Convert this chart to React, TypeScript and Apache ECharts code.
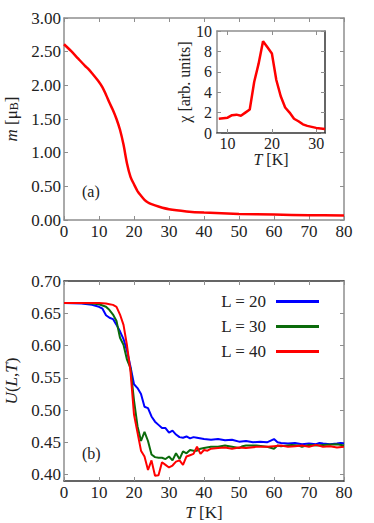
import React, { useEffect, useRef } from 'react';
import * as echarts from 'echarts';

const serif = 'Liberation Serif';

// Panel (a): magnetization m(T)
const mT = [0, 2, 4, 6, 7, 8, 10, 11, 12, 13, 14, 15, 16, 17, 18, 19, 20, 21, 22, 23, 24, 25, 27, 30, 35, 40, 50, 60, 70, 80];
const mVal = [2.61, 2.51, 2.4, 2.29, 2.24, 2.18, 2.05, 1.97, 1.86, 1.74, 1.63, 1.5, 1.34, 1.12, 0.84, 0.64, 0.53, 0.43, 0.36, 0.3, 0.26, 0.235, 0.2, 0.16, 0.128, 0.11, 0.09, 0.08, 0.072, 0.065];

// Inset: susceptibility chi(T)
const chiT = [8, 9, 10, 11, 12, 13, 14, 15, 16, 17, 18, 19, 20, 21, 22, 23, 24, 25, 26, 27, 28, 29, 30, 31, 32];
const chiVal = [1.4, 1.45, 1.5, 1.75, 1.8, 1.7, 2.0, 2.3, 5.0, 6.8, 9.0, 8.4, 7.8, 5.2, 3.6, 2.5, 2.0, 1.4, 1.15, 0.85, 0.7, 0.6, 0.5, 0.45, 0.4];

// Panel (b): Binder cumulant U(L,T)
const legendNames = ['L = 20', 'L = 30', 'L = 40'];
const t20 = [0, 5, 8, 10, 11, 12, 13, 14, 15, 16, 17, 18, 19, 20, 21, 22, 23, 24, 25, 26, 27, 28, 29, 30, 31, 32, 33, 34, 35, 36, 37, 38, 40, 42, 44, 46, 48, 50, 52, 54, 56, 58, 60, 61, 62, 64, 66, 68, 70, 72, 73, 74, 76, 78, 79, 80];
const u20 = [0.666, 0.665, 0.663, 0.66, 0.657, 0.647, 0.643, 0.641, 0.632, 0.622, 0.61, 0.592, 0.567, 0.54, 0.534, 0.525, 0.505, 0.503, 0.49, 0.482, 0.477, 0.472, 0.472, 0.465, 0.468, 0.462, 0.458, 0.457, 0.459, 0.456, 0.458, 0.457, 0.455, 0.454, 0.455, 0.453, 0.454, 0.451, 0.452, 0.45, 0.451, 0.45, 0.455, 0.45, 0.449, 0.448, 0.449, 0.447, 0.448, 0.447, 0.449, 0.448, 0.447, 0.448, 0.449, 0.448];
const t30 = [0, 5, 8, 10, 11, 12, 13, 14, 15, 16, 17, 18, 19, 20, 21, 22, 23, 24, 25, 26, 27, 28, 29, 30, 31, 32, 33, 34, 35, 36, 37, 38, 39, 40, 42, 44, 46, 48, 50, 51, 52, 55, 58, 60, 61, 62, 65, 67, 68, 70, 72, 75, 78, 80];
const u30 = [0.666, 0.666, 0.665, 0.664, 0.662, 0.66, 0.655, 0.648, 0.638, 0.612, 0.601, 0.578, 0.565, 0.515, 0.475, 0.452, 0.466, 0.452, 0.431, 0.427, 0.426, 0.426, 0.424, 0.428, 0.422, 0.433, 0.424, 0.436, 0.433, 0.438, 0.437, 0.437, 0.44, 0.441, 0.443, 0.443, 0.445, 0.443, 0.441, 0.444, 0.445, 0.445, 0.443, 0.44, 0.445, 0.444, 0.446, 0.445, 0.443, 0.446, 0.445, 0.446, 0.447, 0.445];
const t40 = [0, 5, 10, 12, 13, 14, 15, 16, 17, 18, 19, 20, 21, 22, 23, 24, 25, 26, 27, 28, 29, 30, 31, 32, 33, 34, 35, 36, 37, 38, 39, 40, 41, 42, 44, 46, 48, 50, 52, 55, 58, 60, 62, 64, 66, 68, 70, 72, 74, 76, 78, 80];
const u40 = [0.666, 0.666, 0.666, 0.665, 0.664, 0.663, 0.66, 0.648, 0.632, 0.6, 0.56, 0.493, 0.465, 0.437, 0.428, 0.407, 0.422, 0.398, 0.399, 0.419, 0.415, 0.411, 0.414, 0.42, 0.422, 0.415, 0.428, 0.43, 0.432, 0.443, 0.432, 0.438, 0.437, 0.44, 0.441, 0.442, 0.44, 0.442, 0.441, 0.443, 0.443, 0.444, 0.445, 0.443, 0.444, 0.445, 0.443, 0.446, 0.443, 0.444, 0.442, 0.443];

const mTicks = [0, 0.5, 1, 1.5, 2, 2.5, 3];
const uTicks = [0.4, 0.45, 0.5, 0.55, 0.6, 0.65, 0.7];
const tTicks = [0, 10, 20, 30, 40, 50, 60, 70, 80];
const chiTTicks = [10, 20, 30];
const chiTicks = [0, 2, 4, 6, 8, 10];

const zip = (xs: number[], ys: number[]) => xs.map((x, i) => [x, ys[i]]);

const gray = '#8e8e8e';
const dark = '#333';

function axisPair(kind: 'x' | 'y', gridIndex: number, min: number, max: number, ticks: number[], fontSize: number, c1: string, c2: string, fmt: (v: number) => string, margin: number, extra: any = {}) {
  const base = {
    type: 'value',
    gridIndex,
    min,
    max,
    splitLine: { show: false },
    axisTick: { show: true, inside: true, length: 4, customValues: ticks, lineStyle: { color: gray, width: 1 } },
  };
  const main = {
    ...base,
    position: kind === 'x' ? 'bottom' : 'left',
    axisLine: { show: true, onZero: false, lineStyle: { color: c1, width: 1.5 } },
    axisLabel: {
      show: true,
      customValues: ticks,
      formatter: fmt,
      fontFamily: serif,
      fontSize,
      color: '#222',
      margin,
      hideOverlap: false,
    },
    ...extra,
  };
  const other = {
    ...base,
    position: kind === 'x' ? 'top' : 'right',
    axisLine: { show: true, onZero: false, lineStyle: { color: c2, width: 1.5 } },
    axisLabel: { show: false },
  };
  return [main, other];
}

export default function App() {
  const ref = useRef<HTMLDivElement>(null);
  useEffect(() => {
    const chart = echarts.init(ref.current!, null, { renderer: 'svg' });
    const italic = { fontStyle: 'italic', fontFamily: serif };
    const xAxes = [
      ...axisPair('x', 0, 0, 80, tTicks, 17, gray, gray, (v) => String(v), 3),
      ...axisPair('x', 1, 7.6, 32, chiTTicks, 16, dark, gray, (v) => String(v), 2, {
        name: '{i|T} {r|[K]}', nameLocation: 'middle', nameGap: 18,
        nameTextStyle: { fontFamily: serif, fontSize: 16, color: '#222', rich: { i: { ...italic, fontSize: 16 }, r: { fontFamily: serif, fontSize: 16 } } },
      }),
      ...axisPair('x', 2, 0, 80, tTicks, 17, dark, dark, (v) => String(v), 3, {
        name: '{i|T} {r|[K]}', nameLocation: 'middle', nameGap: 23,
        nameTextStyle: { fontFamily: serif, fontSize: 17, color: '#222', rich: { i: { ...italic, fontSize: 17 }, r: { fontFamily: serif, fontSize: 17 } } },
      }),
    ];
    const yAxes = [
      ...axisPair('y', 0, 0, 3, mTicks, 17, gray, gray, (v) => v.toFixed(2), 3, {
        name: '{i|m} {r|[μ}{s|B}{r|]}', nameLocation: 'middle', nameGap: 41, nameRotate: 90,
        nameTextStyle: { fontFamily: serif, fontSize: 17, color: '#222', rich: { i: { ...italic, fontSize: 17 }, r: { fontFamily: serif, fontSize: 17 }, s: { fontFamily: serif, fontSize: 12, padding: [6, 0, 0, 0] } } },
      }),
      ...axisPair('y', 1, 0, 10, chiTicks, 16, gray, dark, (v) => String(v), 5, {
        name: 'χ [arb. units]', nameLocation: 'middle', nameGap: 25, nameRotate: 90,
        nameTextStyle: { fontFamily: serif, fontSize: 16, color: '#222' },
      }),
      ...axisPair('y', 2, 0.39, 0.7, uTicks, 17, gray, gray, (v) => v.toFixed(2), 3, {
        name: '{i|U}{r|(}{i|L}{r|,}{i|T}{r|)}', nameLocation: 'middle', nameGap: 41, nameRotate: 90,
        nameTextStyle: { fontFamily: serif, fontSize: 17, color: '#222', rich: { i: { ...italic, fontSize: 17 }, r: { fontFamily: serif, fontSize: 17 } } },
      }),
    ];
    const gridBase = { outerBoundsMode: 'none', containLabel: false };
    const option: any = {
      animation: false,
      backgroundColor: '#fff',
      textStyle: { fontFamily: serif },
      grid: [
        { ...gridBase, left: 64, top: 18, width: 280, height: 202 },
        { ...gridBase, left: 217, top: 31, width: 108, height: 102 },
        { ...gridBase, left: 64, top: 281, width: 280, height: 200 },
      ],
      xAxis: xAxes,
      yAxis: yAxes,
      legend: {
        data: legendNames,
        orient: 'vertical',
        right: 50,
        top: 288,
        align: 'right',
        icon: 'rect',
        itemWidth: 43,
        itemHeight: 3,
        itemGap: 8,
        textStyle: { fontFamily: serif, fontSize: 17, color: '#222', lineHeight: 17, padding: [0, 5, 0, 0] },
      },
      graphic: [
        { type: 'text', left: 82, top: 183, style: { text: '(a)', font: '16px "Liberation Serif"', fill: '#222' } },
        { type: 'text', left: 82, top: 445, style: { text: '(b)', font: '16px "Liberation Serif"', fill: '#222' } },
      ],
      series: [
        { type: 'line', xAxisIndex: 0, yAxisIndex: 0, data: zip(mT, mVal), smooth: 0.3, showSymbol: false, lineStyle: { color: '#ff0000', width: 2.5 }, itemStyle: { color: '#ff0000' } },
        { type: 'line', xAxisIndex: 2, yAxisIndex: 2, data: zip(chiT, chiVal), showSymbol: false, lineStyle: { color: '#ff0000', width: 2.5 }, itemStyle: { color: '#ff0000' } },
        { name: legendNames[0], type: 'line', xAxisIndex: 4, yAxisIndex: 4, data: zip(t20, u20), showSymbol: false, lineStyle: { color: '#0000ff', width: 2 }, itemStyle: { color: '#0000ff' } },
        { name: legendNames[1], type: 'line', xAxisIndex: 4, yAxisIndex: 4, data: zip(t30, u30), showSymbol: false, lineStyle: { color: '#0b6b0b', width: 2 }, itemStyle: { color: '#0b6b0b' } },
        { name: legendNames[2], type: 'line', xAxisIndex: 4, yAxisIndex: 4, data: zip(t40, u40), showSymbol: false, lineStyle: { color: '#ff0000', width: 2 }, itemStyle: { color: '#ff0000' } },
      ],
    };
    chart.setOption(option);
    return () => chart.dispose();
  }, []);
  return <div ref={ref} style={{ position: 'absolute', left: 0, top: 0, width: 374, height: 523 }} />;
}
